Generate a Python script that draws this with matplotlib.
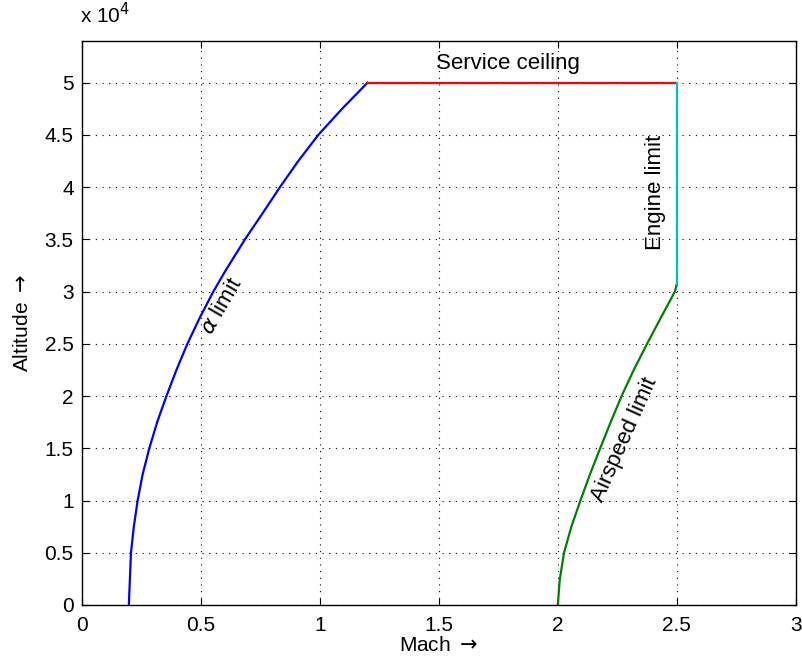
import matplotlib.pyplot as plt
from matplotlib.ticker import FuncFormatter

plt.rcParams['font.family'] = ['Liberation Sans', 'DejaVu Sans']

# alpha limit (blue)
alpha_mach = [0.197, 0.206, 0.218, 0.234, 0.255, 0.283, 0.316, 0.355, 0.397, 0.443,
              0.495, 0.552, 0.603, 0.685, 0.759, 0.832, 0.909, 0.993, 1.093, 1.2]
alpha_alt = [0, 5000, 7500, 10000, 12500, 15000, 17500, 20000, 22500, 25000,
             27500, 30000, 32000, 35000, 37500, 40000, 42500, 45000, 47500, 50000]

# airspeed limit (green)
air_mach = [2.0, 2.008, 2.026, 2.057, 2.095, 2.135, 2.178, 2.222, 2.268, 2.319,
            2.375, 2.433, 2.492, 2.5]
air_alt = [0, 2400, 5000, 7500, 10000, 12500, 15000, 17500, 20000, 22500,
           25000, 27500, 30000, 30700]

# service ceiling (red) and engine limit (cyan)
ceil_mach = [1.2, 2.5]
ceil_alt = [50000, 50000]
eng_mach = [2.5, 2.5]
eng_alt = [30700, 50000]

fs = 15
fs_lbl = 16

fig = plt.figure(figsize=(8.02, 6.63), dpi=100)
ax = fig.add_axes([0.1022, 0.0875, 0.890, 0.8507])

ax.plot(alpha_mach, alpha_alt, color='#0000ff', lw=1.6)
ax.plot(air_mach, air_alt, color='#008000', lw=1.6)
ax.plot(ceil_mach, ceil_alt, color='#ff0000', lw=1.6)
ax.plot(eng_mach, eng_alt, color='#00bfbf', lw=1.6)

ax.set_xlim(0, 3)
ax.set_ylim(0, 54000)
ax.set_xticks([0, 0.5, 1, 1.5, 2, 2.5, 3])
ax.set_yticks([i * 5000 for i in range(11)])
ax.xaxis.set_major_formatter(FuncFormatter(lambda v, p: '%g' % v))
ax.yaxis.set_major_formatter(FuncFormatter(lambda v, p: '%g' % (v / 1e4)))
ax.tick_params(direction='in', top=True, right=True, labelsize=fs, length=5)
ax.tick_params(axis='x', pad=8)
ax.tick_params(axis='y', pad=6)
ax.grid(True, linestyle=(0, (1, 5)), color='k', linewidth=0.8)
for s in ax.spines.values():
    s.set_linewidth(1.0)

ax.set_xlabel(r'Mach $\rightarrow$', fontsize=fs, labelpad=1)
ax.set_ylabel(r'Altitude $\rightarrow$', fontsize=fs, labelpad=9)
ax.text(-0.003, 1.025, r'x 10$^4$', transform=ax.transAxes, fontsize=fs, ha='left', va='bottom')

ax.text(1.79, 51800, 'Service ceiling', fontsize=fs_lbl, ha='center', va='center')
ax.text(2.41, 39500, 'Engine limit', fontsize=fs_lbl, ha='center', va='center', rotation=90)
ax.text(0.59, 28600, r'$\alpha$ limit', fontsize=fs_lbl, ha='center', va='center', rotation=60)
ax.text(2.28, 15800, 'Airspeed limit', fontsize=fs_lbl, ha='center', va='center', rotation=66)

fig.savefig('out.png', dpi=100)
